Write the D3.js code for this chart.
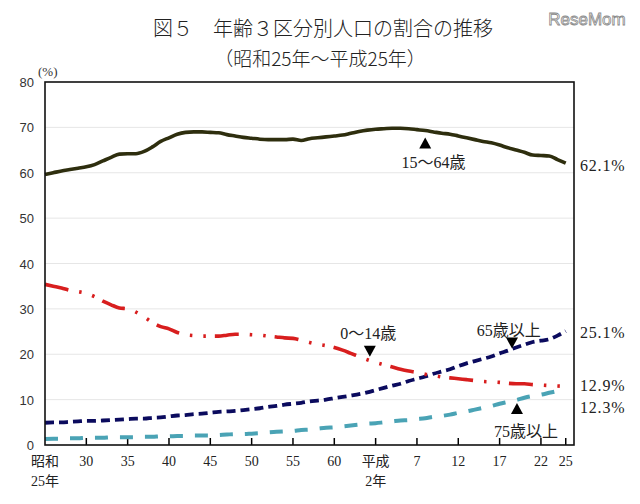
<!DOCTYPE html>
<html><head><meta charset="utf-8">
<script src="https://cdn.jsdelivr.net/npm/d3@7"></script>
<style>
html,body{margin:0;padding:0;background:#fff;}
svg{display:block;}
</style></head>
<body>
<svg id="c" width="640" height="504"></svg>
<script>
const years = d3.range(1950, 2014);
const age15to64 = [59.6,60.0,60.4,60.7,61.0,61.3,61.8,62.6,63.4,64.1,64.2,64.2,64.7,65.7,66.9,67.7,68.5,68.9,69.0,69.0,68.9,68.8,68.4,68.1,67.8,67.6,67.4,67.3,67.3,67.3,67.4,67.1,67.5,67.7,67.9,68.1,68.3,68.7,69.1,69.4,69.6,69.7,69.8,69.8,69.7,69.5,69.3,69.0,68.7,68.5,68.1,67.7,67.3,66.9,66.6,66.1,65.5,65.0,64.5,63.9,63.8,63.7,62.9,62.1];
const age0to14 = [35.4,35.0,34.6,34.1,33.8,33.4,32.7,31.7,30.9,30.2,30.0,29.3,28.2,27.0,26.1,25.6,24.8,24.3,24.1,24.0,24.0,24.0,24.2,24.4,24.4,24.3,24.2,24.0,23.8,23.6,23.5,23.1,22.6,22.2,21.9,21.5,20.9,20.2,19.5,18.8,18.2,17.7,17.2,16.7,16.3,16.0,15.6,15.3,15.0,14.8,14.6,14.4,14.2,14.0,13.9,13.8,13.6,13.5,13.5,13.3,13.2,13.1,13.0,12.9];
const age65plus = [4.9,5.0,5.0,5.1,5.2,5.3,5.3,5.4,5.5,5.6,5.7,5.8,5.8,6.0,6.1,6.3,6.5,6.6,6.8,6.9,7.1,7.3,7.4,7.5,7.7,7.9,8.1,8.4,8.6,8.9,9.1,9.3,9.6,9.8,10.0,10.3,10.6,10.9,11.2,11.6,12.1,12.6,13.1,13.5,14.1,14.6,15.1,15.7,16.2,16.7,17.4,18.0,18.5,19.0,19.5,20.2,20.8,21.5,22.1,22.7,23.0,23.3,24.1,25.1];
const age75plus = [1.3,1.4,1.4,1.5,1.5,1.6,1.6,1.6,1.7,1.7,1.7,1.7,1.8,1.8,1.9,1.9,2.0,2.0,2.1,2.1,2.1,2.2,2.3,2.4,2.4,2.5,2.6,2.8,2.9,3.0,3.1,3.3,3.4,3.6,3.8,3.9,4.1,4.3,4.5,4.7,4.8,5.0,5.2,5.4,5.5,5.7,5.9,6.2,6.4,6.7,7.1,7.4,7.8,8.2,8.6,9.1,9.5,9.9,10.4,10.8,11.1,11.5,11.9,12.3];
const xTickYears = [1955,1960,1965,1970,1975,1980,1985,1990,1995,2000,2005,2010,2013];
const xTickLabels = ["30","35","40","45","50","55","60","平成\n2年","7","12","17","22","25"];
const yTicks = [0,10,20,30,40,50,60,70,80];
const seriesNames = ["15～64歳","0～14歳","65歳以上","75歳以上"];
const endLabels = ["62.1%","12.9%","25.1%","12.3%"];

const svg = d3.select("#c");
const x = d3.scaleLinear().domain([1950, 2014]).range([45, 574]);
const y = d3.scaleLinear().domain([0, 80]).range([445, 82]);
const serif = "'Liberation Serif','Noto Sans CJK JP',serif";

// title
svg.append("text").attr("x", 323).attr("y", 36).attr("text-anchor","middle")
  .attr("font-family", "'Noto Sans CJK JP'").attr("font-size", 20).attr("font-weight", 300).attr("fill","#222")
  .text("図５　年齢３区分別人口の割合の推移");
svg.append("text").attr("x", 320).attr("y", 66).attr("text-anchor","middle")
  .attr("font-family", "'Noto Sans CJK JP'").attr("font-size", 19).attr("font-weight", 300).attr("fill","#222")
  .text("（昭和25年～平成25年）");
svg.append("text").attr("x", 587).attr("y", 25).attr("text-anchor","middle")
  .attr("font-family","'Liberation Sans',sans-serif").attr("font-size", 17)
  .attr("fill","#fff").attr("stroke","#888").attr("stroke-width",0.8)
  .text("ReseMom");

// gridlines
svg.append("g").selectAll("line").data(yTicks.filter(d => d > 0 && d < 80)).join("line")
  .attr("x1", x(1950)).attr("x2", x(2014)).attr("y1", d => y(d)).attr("y2", d => y(d))
  .attr("stroke", "#e6e6e6").attr("stroke-width", 1);

// y labels
svg.append("g").selectAll("text").data(yTicks).join("text")
  .attr("x", 34).attr("y", d => y(d) + 5).attr("text-anchor","end")
  .attr("font-family","'Liberation Sans',Arial,sans-serif").attr("font-size", 13).attr("fill","#333")
  .text(d => d);
svg.append("text").attr("x", 38).attr("y", 76).attr("font-family", serif).attr("font-size", 13).attr("fill","#333").text("(%)");

// x ticks
svg.append("g").selectAll("line").data(xTickYears).join("line")
  .attr("x1", d => x(d)).attr("x2", d => x(d)).attr("y1", y(0) - 7).attr("y2", y(0))
  .attr("stroke", "#000").attr("stroke-width", 1.5);
const xl = svg.append("g").selectAll("text").data(xTickYears).join("text")
  .attr("x", d => x(d)).attr("y", y(0) + 21).attr("text-anchor","middle")
  .attr("font-family", serif).attr("font-size", 14).attr("fill","#222");
xl.each(function(d, i){
  const parts = xTickLabels[i].split("\n");
  const t = d3.select(this);
  parts.forEach((p, j) => t.append("tspan").attr("x", x(d)).attr("dy", j === 0 ? 0 : 20).text(p));
});
const first = svg.append("text").attr("x", x(1950)).attr("y", y(0) + 21).attr("text-anchor","middle")
  .attr("font-family", serif).attr("font-size", 14).attr("fill","#222");
first.append("tspan").attr("x", x(1950)).text("昭和");
first.append("tspan").attr("x", x(1950)).attr("dy", 20).text("25年");

// lines
const mk = arr => d3.line().x((d, i) => x(years[i])).y(d => y(d)).curve(d3.curveMonotoneX)(arr);
svg.append("path").attr("d", mk(age75plus)).attr("fill","none").attr("stroke","#4aa3b5")
  .attr("stroke-width", 4).attr("stroke-dasharray","13,12");
svg.append("path").attr("d", mk(age65plus)).attr("fill","none").attr("stroke","#0b0b5e")
  .attr("stroke-width", 3.8).attr("stroke-dasharray","9,5");
svg.append("path").attr("d", mk(age0to14)).attr("fill","none").attr("stroke","#d81e1e")
  .attr("stroke-width", 3.6).attr("stroke-dasharray","24,11,2.5,11,2.5,9");
svg.append("path").attr("d", mk(age15to64)).attr("fill","none").attr("stroke","#2e2e0e")
  .attr("stroke-width", 3.6);

// frame
svg.append("rect").attr("x", x(1950)).attr("y", y(80)).attr("width", x(2014) - x(1950)).attr("height", y(0) - y(80))
  .attr("fill","none").attr("stroke","#111").attr("stroke-width", 1.6);

// series annotations
const tri = (cx, cy, up) => up ? `M${cx},${cy-6}L${cx+6},${cy+5}L${cx-6},${cy+5}Z` : `M${cx},${cy+6}L${cx+6},${cy-5}L${cx-6},${cy-5}Z`;
const ann = [
  {name: seriesNames[0], tx: x(1997), ty: y(age15to64[46]) + 37, px: x(1996), py: y(age15to64[46]) + 13, up: true},
  {name: seriesNames[1], tx: x(1989.1), ty: y(age0to14[39]) - 21, px: x(1989.3), py: y(age0to14[39]) - 9, up: false},
  {name: seriesNames[2], tx: x(2006.1), ty: y(age65plus[56]) - 15, px: x(2006.5), py: y(age65plus[56]) - 8, up: false},
  {name: seriesNames[3], tx: x(2008.2), ty: y(age75plus[57]) + 37, px: x(2007.1), py: y(age75plus[57]) + 9, up: true}
];
ann.forEach(a => {
  svg.append("path").attr("d", tri(a.px, a.py, a.up)).attr("fill", "#000");
  svg.append("text").attr("x", a.tx).attr("y", a.ty).attr("text-anchor","middle")
    .attr("font-family", serif).attr("font-size", 16).attr("fill","#222").text(a.name);
});

// end labels
const endVals = [age15to64[63], age0to14[63] , age65plus[63], age75plus[63]];
const endOffsets = [8, 5, 7, 24];
endLabels.forEach((t, i) => {
  svg.append("text").attr("x", 580).attr("y", y(endVals[i]) + endOffsets[i])
    .attr("font-family", serif).attr("font-size", 16).attr("letter-spacing", 0.8).attr("fill","#222").text(t);
});
</script>
</body></html>
